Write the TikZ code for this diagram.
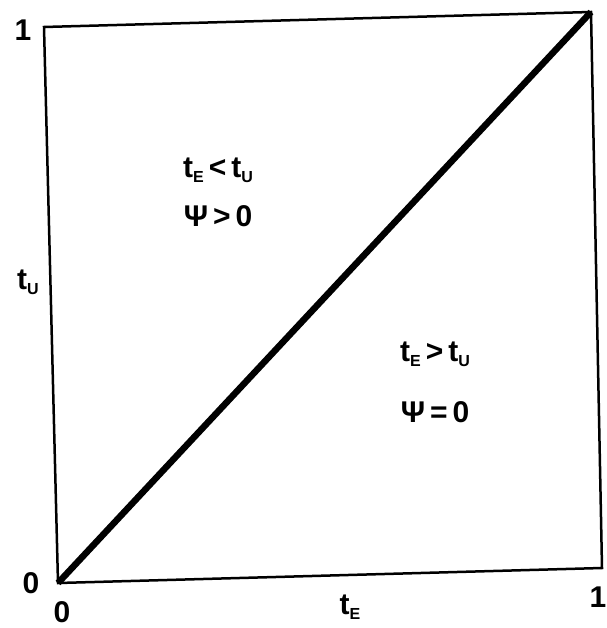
\documentclass[tikz,border=0pt]{standalone}
\usepackage{fontspec}
\setmainfont{Liberation Sans}
\newcommand\lsub[1]{\raisebox{-5pt}{\fontsize{16}{16}\selectfont #1}}
\begin{document}
\begin{tikzpicture}[x=1pt,y=-1pt,
  lbl/.style={font=\fontsize{30}{34}\selectfont\bfseries, inner sep=0pt},
  frame/.style={line width=2.5pt, line join=miter},
  diag/.style={line width=6.5pt}]
\useasboundingbox (0,0) rectangle (606,628);
\coordinate (TL) at (44,27);
\coordinate (TR) at (591,12);
\coordinate (BR) at (602,568);
\coordinate (BL) at (58,583);
\draw[frame] (TL) -- (TR) -- (BR) -- (BL) -- cycle;
\draw[diag] (BL) -- (TR);
\node[lbl] (one) at (23,30) {1};
\node[lbl] (zl) at (31,583) {0};
\node[lbl] (zb) at (62,612) {0};
\node[lbl] (oner) at (598,597) {1};
\node[lbl] (tu) at (28,282) {t\lsub{U}};
\node[lbl] (te) at (350,607) {t\lsub{E}};
\node[lbl] (r1) at (218,170) {t\lsub{E}\,<\,t\lsub{U}};
\node[lbl] (r2) at (218,216) {Ψ\,>\,0};
\node[lbl] (r3) at (435,354) {t\lsub{E}\,>\,t\lsub{U}};
\node[lbl] (r4) at (435,412) {Ψ\,=\,0};
\end{tikzpicture}
\end{document}
